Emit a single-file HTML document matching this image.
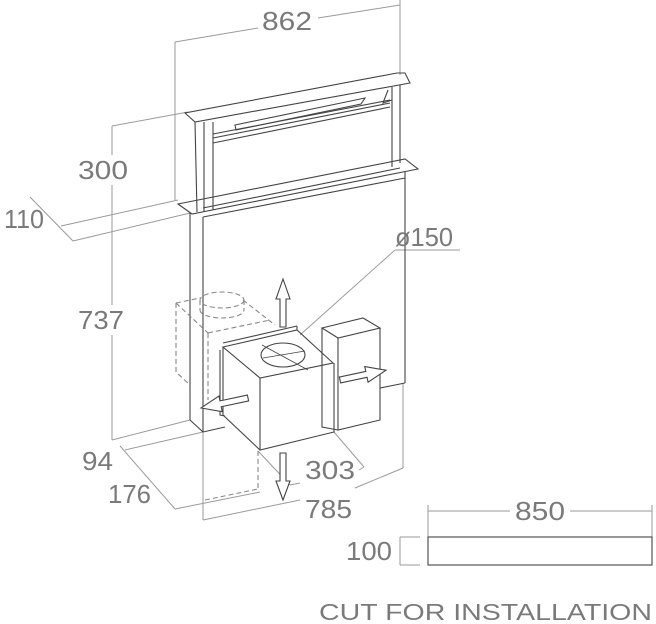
<!DOCTYPE html>
<html><head><meta charset="utf-8"><style>
html,body{margin:0;padding:0;background:#fff;}
svg{display:block}
text{font-family:"Liberation Sans",sans-serif;fill:#7a7a7a;}
</style></head><body>
<svg width="656" height="624" viewBox="0 0 656 624" xmlns="http://www.w3.org/2000/svg">
<g fill="none" stroke="#9a9a9a" stroke-width="1">
<line x1="175" y1="42" x2="175" y2="200"/>
<line x1="400" y1="0" x2="400" y2="75"/>
<line x1="175" y1="42" x2="258" y2="28"/>
<line x1="318" y1="18" x2="400" y2="5"/>
<line x1="112" y1="126" x2="112" y2="155"/>
<line x1="112" y1="185" x2="112" y2="305"/>
<line x1="112" y1="335" x2="112" y2="440"/>
<line x1="112" y1="126" x2="188" y2="112"/>
<line x1="30" y1="197" x2="73" y2="241"/>
<line x1="61" y1="226" x2="178" y2="200"/>
<line x1="73" y1="241" x2="190" y2="213"/>
<line x1="112" y1="440" x2="190" y2="420"/>
<line x1="125" y1="450" x2="203" y2="432"/>
<line x1="120" y1="446" x2="175" y2="509"/>
<line x1="175" y1="509" x2="260" y2="492"/>
<line x1="203" y1="432" x2="203" y2="520"/>
<line x1="203" y1="520" x2="300" y2="500"/>
<line x1="355" y1="488" x2="403" y2="468"/>
<line x1="403" y1="383" x2="403" y2="468"/>
<line x1="258" y1="451" x2="290" y2="485"/>
<line x1="334" y1="432" x2="364" y2="467"/>
<line x1="290" y1="485" x2="300" y2="483"/>
<line x1="359" y1="470" x2="364" y2="467"/>
<line x1="300" y1="335" x2="395" y2="250"/>
<line x1="395" y1="250" x2="460" y2="250"/>
<line x1="428" y1="505" x2="428" y2="537"/>
<line x1="652" y1="505" x2="652" y2="537"/>
<line x1="428" y1="511" x2="510" y2="511"/>
<line x1="570" y1="511" x2="652" y2="511"/>
<line x1="400" y1="537" x2="420" y2="537"/>
<line x1="400" y1="565" x2="420" y2="565"/>
<line x1="400" y1="537" x2="400" y2="565"/>
</g>
<g fill="none" stroke="#444" stroke-width="1.1">
<polygon points="185,113 195,122 410,83 405,73 397,73"/>
<line x1="195" y1="122" x2="197" y2="212"/>
<line x1="204" y1="122" x2="204" y2="212"/>
<line x1="213" y1="122" x2="213" y2="210"/>
<line x1="392" y1="87" x2="392" y2="167"/>
<line x1="400" y1="85" x2="400" y2="163"/>
<line x1="213" y1="134" x2="390" y2="100"/>
<line x1="213" y1="138" x2="390" y2="103"/>
<line x1="213" y1="143" x2="390" y2="107"/>
<polygon points="235,125 365,98 361,104 236,130"/>
<polyline points="388,90 383,103 392,100"/>
<polygon points="178,204 192,214 418,169 405,159"/>
<line x1="203" y1="208" x2="400" y2="168"/>
<line x1="203" y1="217" x2="405" y2="178"/>
<line x1="190" y1="213" x2="190" y2="420"/>
<line x1="203" y1="217" x2="203" y2="432"/>
<line x1="405" y1="172" x2="405" y2="383"/>
<line x1="190" y1="420" x2="203" y2="432"/>
<line x1="203" y1="432" x2="225" y2="427"/>
<line x1="380" y1="388" x2="405" y2="383"/>
<polygon points="223,347 297,330 333,363 260,378"/>
<polyline points="260,378 260,450 334,432 334,363"/>
<polyline points="223,347 223,415 260,450"/>
<polyline points="220,350 220,415 225,416"/>
<line x1="297" y1="330" x2="297" y2="326"/>
<line x1="223" y1="343" x2="297" y2="326"/>
<ellipse cx="283" cy="355" rx="22" ry="12"/>
<line x1="263" y1="358" x2="305" y2="351" stroke-width="0.8"/>
<line x1="262" y1="345" x2="308" y2="370" stroke-width="0.8"/>
<polygon points="322,328 363,318 380,328 338,338"/>
<polyline points="338,338 338,430 380,420 380,328"/>
<polyline points="322,328 322,427 338,430"/>
<g stroke="#888" stroke-dasharray="5,3">
<polyline points="176,303 176,372 190,385"/>
<line x1="176" y1="303" x2="200" y2="298"/>
<line x1="176" y1="303" x2="208" y2="333"/>
<line x1="208" y1="333" x2="208" y2="400"/>
<line x1="208" y1="333" x2="270" y2="320"/>
<line x1="243" y1="300" x2="275" y2="325"/>
<ellipse cx="222" cy="300" rx="22" ry="8"/>
<line x1="200" y1="300" x2="200" y2="310"/>
<line x1="244" y1="300" x2="244" y2="310"/>
<path d="M200,310 A22,8 0 0 0 244,310"/>
<line x1="258" y1="451" x2="258" y2="490"/>
<line x1="205" y1="500" x2="258" y2="489"/>
</g>
<g fill="#fff">
<polygon transform="translate(283,327) rotate(-90)" points="0,-3 28,-3 28,-7 48,0 28,7 28,3 0,3"/>
<polygon transform="translate(283,453) rotate(90)" points="0,-3 28,-3 28,-7 47,0 28,7 28,3 0,3"/>
<polygon transform="translate(248,398) rotate(168)" points="0,-3 28,-3 28,-8 48,0 28,8 28,3 0,3"/>
<polygon transform="translate(340,380) rotate(-12)" points="0,-3 27,-3 27,-8 47,0 27,8 27,3 0,3"/>
</g>
<rect x="428" y="537" width="224" height="28"/>
</g>
<g font-size="26">
<text x="262" y="30" textLength="50" lengthAdjust="spacingAndGlyphs">862</text>
<text x="78" y="179" textLength="50" lengthAdjust="spacingAndGlyphs">300</text>
<text x="4" y="228" textLength="40" lengthAdjust="spacingAndGlyphs">110</text>
<text x="78" y="329" textLength="46" lengthAdjust="spacingAndGlyphs">737</text>
<text x="395" y="246" textLength="58" lengthAdjust="spacingAndGlyphs">ø150</text>
<text x="82" y="470" textLength="31" lengthAdjust="spacingAndGlyphs">94</text>
<text x="108" y="503" textLength="43" lengthAdjust="spacingAndGlyphs">176</text>
<text x="305" y="479" textLength="50" lengthAdjust="spacingAndGlyphs">303</text>
<text x="305" y="518" textLength="47" lengthAdjust="spacingAndGlyphs">785</text>
<text x="515" y="520" textLength="50" lengthAdjust="spacingAndGlyphs">850</text>
<text x="346" y="560" textLength="46" lengthAdjust="spacingAndGlyphs">100</text>
</g>
<text x="319" y="620" font-size="23" textLength="333" lengthAdjust="spacingAndGlyphs">CUT FOR INSTALLATION</text>
</svg>
</body></html>
